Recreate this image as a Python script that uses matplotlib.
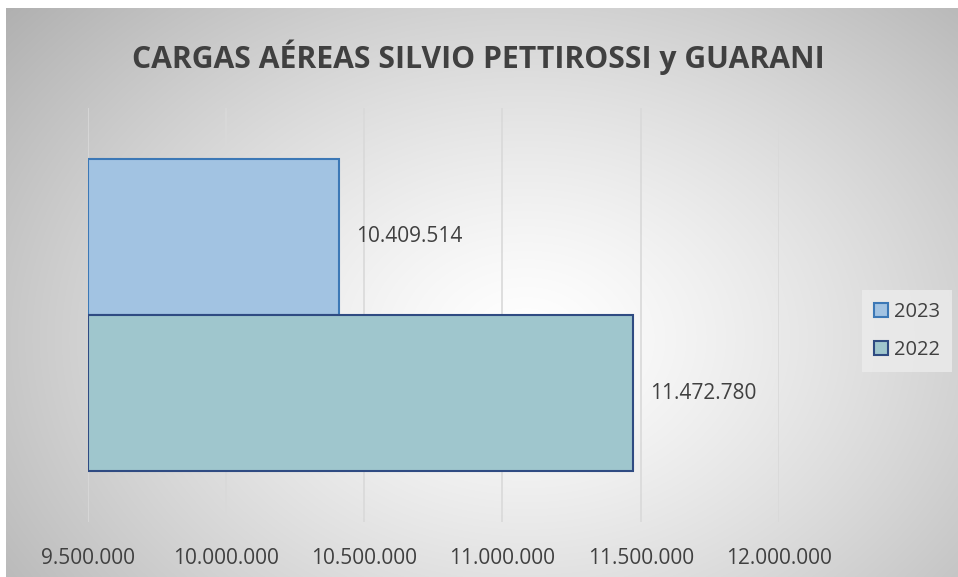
import numpy as np
import matplotlib.pyplot as plt
from matplotlib.patches import Patch

# data
years = ["2023", "2022"]
values = [10409514, 11472780]
x_ticks = [9500000, 10000000, 10500000, 11000000, 11500000, 12000000]
title = "CARGAS AÉREAS SILVIO PETTIROSSI y GUARANI"

fill_colors = ["#a2c3e2", "#9fc6cd"]
edge_colors = ["#3c78b6", "#2f4b82"]
text_col = "#404040"

plt.rcParams['font.family'] = ['Open Sans', 'DejaVu Sans']

def fmt(v):
    return f"{v:,.0f}".replace(",", ".")

fig = plt.figure(figsize=(9.58, 5.77), dpi=100)
fig.patch.set_facecolor("white")

# radial grey gradient background of the chart area
W, H = 952, 569
bg = fig.add_axes([6 / 958, 0, W / 958, H / 577])
yy, xx = np.mgrid[0:H, 0:W]
r = np.sqrt(((xx - 520) / 560.0) ** 2 + ((yy - 330) / 420.0) ** 2)
shade = np.clip(1.0 - 0.24 * r ** 1.3, 0, 1)
bg.imshow(np.dstack([shade] * 3), aspect="auto", extent=[0, W, H, 0])
bg.set_axis_off()

ax = fig.add_axes([87.7 / 958, 55 / 577, (779 - 87.7) / 958, (522 - 108) / 577])
ax.patch.set_alpha(0)

pos = [0.25, -0.25]
for i in range(len(years)):
    ax.barh(pos[i], values[i] - x_ticks[0], left=x_ticks[0], height=0.5,
            color=fill_colors[i], edgecolor=edge_colors[i], linewidth=1.5,
            label=years[i], zorder=3)
    ax.annotate(fmt(values[i]), (values[i], pos[i]), xytext=(12, 0),
                textcoords="offset points", ha="left", va="center",
                fontsize=15, color=text_col)

ax.set_xlim(x_ticks[0], x_ticks[-1])
ax.set_ylim(-0.663, 0.663)
ax.set_xticks(x_ticks)
ax.set_xticklabels([fmt(t) for t in x_ticks], fontsize=15, color=text_col)
ax.set_yticks([])
ax.tick_params(axis="x", length=0, pad=19)
ax.grid(axis="x", color="#d9d9d9", linewidth=1.2, zorder=0)
for s in ax.spines.values():
    s.set_visible(False)

fig.text(478 / 958, 1 - 57 / 577, title, ha="center", va="center",
         fontsize=21.7, fontweight="bold", color=text_col)

handles = [Patch(facecolor=fill_colors[i], edgecolor=edge_colors[i], linewidth=1.5, label=years[i])
           for i in range(len(years))]
leg = fig.legend(handles=handles, loc="center", bbox_to_anchor=(907 / 958, 1 - 331 / 577),
                 frameon=True, fontsize=14.5, handlelength=0.7, handleheight=0.7,
                 handletextpad=0.3, labelspacing=0.9, borderpad=0.6)
leg.get_frame().set_facecolor("#ececec")
leg.get_frame().set_edgecolor("none")
leg.get_frame().set_boxstyle("square", pad=0)
for t in leg.get_texts():
    t.set_color(text_col)

fig.savefig("out.png", dpi=100)
